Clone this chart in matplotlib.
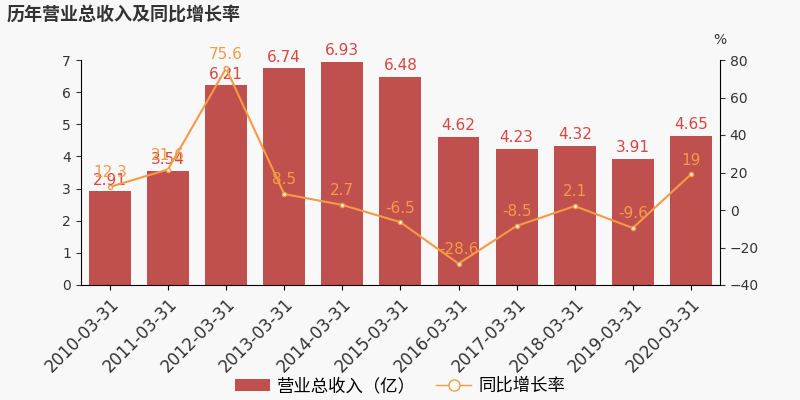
import numpy as np
import matplotlib
matplotlib.use('Agg')
import matplotlib.pyplot as plt
from matplotlib.lines import Line2D
from matplotlib.patches import Patch

plt.rcParams['font.family'] = ['DejaVu Sans', 'Noto Sans CJK SC']

dates = ['2010-03-31', '2011-03-31', '2012-03-31', '2013-03-31', '2014-03-31', '2015-03-31',
         '2016-03-31', '2017-03-31', '2018-03-31', '2019-03-31', '2020-03-31']
revenue = [2.91, 3.54, 6.21, 6.74, 6.93, 6.48, 4.62, 4.23, 4.32, 3.91, 4.65]
growth = [12.3, 21.6, 75.6, 8.5, 2.7, -6.5, -28.6, -8.5, 2.1, -9.6, 19]
growth_labels = ['12.3', '21.6', '75.6', '8.5', '2.7', '-6.5', '-28.6', '-8.5', '2.1', '-9.6', '19']

bar_color = '#c0504d'
line_color = '#f59a45'
bg = '#f8f8f8'

fig = plt.figure(figsize=(8, 4), dpi=100, facecolor=bg)
ax = fig.add_axes([0.101, 0.2875, 0.799, 0.5625])
ax.set_facecolor(bg)
x = np.arange(len(dates))
ax.bar(x, revenue, width=0.72, color=bar_color, zorder=2)
for xi, v in zip(x, revenue):
    ax.text(xi, v + 0.12, f'{v:g}', ha='center', va='bottom', color='#d9453f', fontsize=11, zorder=5)
ax.set_ylim(0, 7)
ax.set_xlim(-0.5, len(dates) - 0.5)
ax.set_yticks(range(0, 8))
ax.set_xticks(x)
ax.set_xticklabels(dates, rotation=45, ha='right', rotation_mode='anchor', fontsize=12, color='#333333')
ax.tick_params(axis='y', labelsize=10, colors='#333333')
for s in ['top', 'right']:
    ax.spines[s].set_visible(False)

ax2 = ax.twinx()
ax2.plot(x, growth, color=line_color, lw=1.5, marker='o', ms=3, mfc='white', mec=line_color, zorder=4)
for xi, v, lab in zip(x, growth, growth_labels):
    ax2.text(xi, v + 3.5, lab, ha='center', va='bottom', color=line_color, fontsize=11, zorder=5)
ax2.set_ylim(-40, 80)
ax2.set_yticks(range(-40, 81, 20))
ax2.tick_params(axis='y', labelsize=10, colors='#333333')
for s in ['top', 'left', 'bottom']:
    ax2.spines[s].set_visible(False)
ax2.text(1.0, 1.06, '%', transform=ax2.transAxes, ha='center', va='bottom', fontsize=10, color='#333333')

fig.text(0.008, 0.965, '历年营业总收入及同比增长率', fontsize=13, fontweight='bold', color='#333333', va='center',
         family=['Noto Sans CJK SC', 'DejaVu Sans'])

handles = [Patch(facecolor=bar_color, edgecolor='none'),
           Line2D([0], [0], color=line_color, marker='o', ms=8, mfc='white', mec=line_color, lw=1)]
fig.legend(handles, ['营业总收入（亿）', '同比增长率'], loc='center', bbox_to_anchor=(0.5, 0.035),
           ncol=2, frameon=False, handlelength=2, columnspacing=1.2, handletextpad=0.4,
           prop={'family': ['Noto Sans CJK SC', 'DejaVu Sans'], 'size': 12.5})

fig.savefig('out.png', dpi=100, facecolor=bg)
